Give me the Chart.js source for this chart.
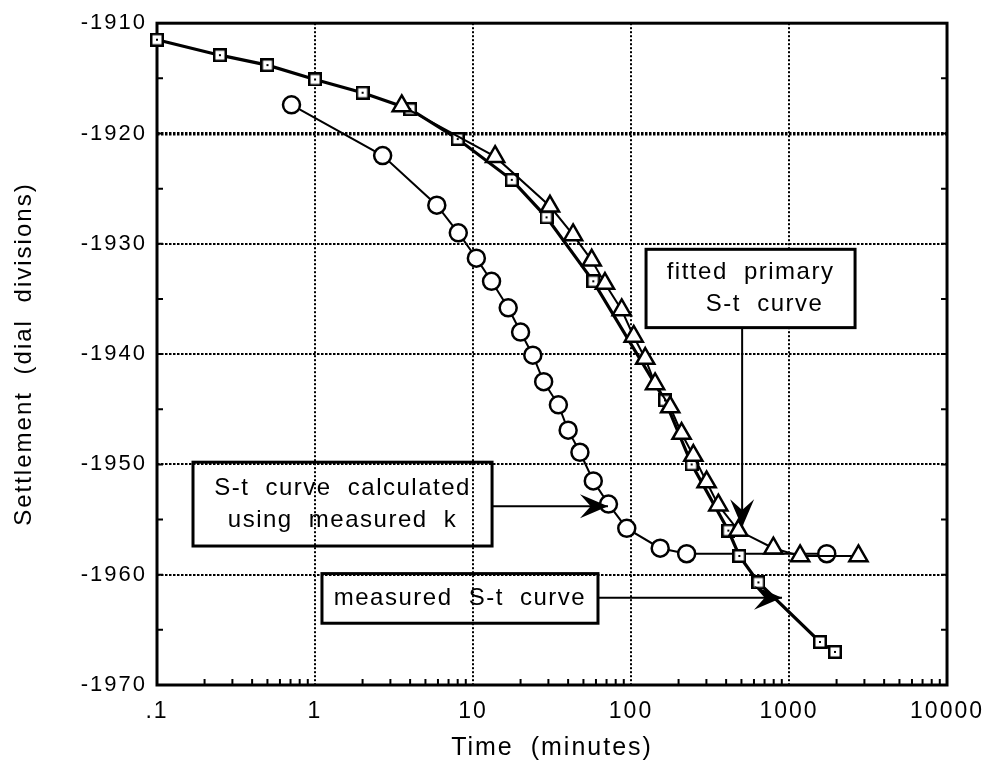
<!DOCTYPE html>
<html>
<head>
<meta charset="utf-8">
<script src="https://cdn.jsdelivr.net/npm/chart.js@4.4.1/dist/chart.umd.min.js"></script>
<style>
  html, body { margin: 0; padding: 0; background: #fff; }
  #wrap { width: 992px; height: 765px; }
</style>
</head>
<body>
<div id="wrap"><canvas id="myChart" width="992" height="765"></canvas></div>
<script>
// measured S-t curve (squares)
const measuredTime = [0.1, 0.25, 0.5, 1, 2, 4, 8, 17.6, 29.2, 57.7, 164, 242, 413, 485, 640, 1570, 1954];
const measuredSettle = [-1911.5, -1912.9, -1913.8, -1915.1, -1916.3, -1917.8, -1920.5, -1924.2, -1927.6,
                        -1933.4, -1944.2, -1950.0, -1956.0, -1958.3, -1960.7, -1966.1, -1967.0];

// fitted primary S-t curve (triangles)
const fittedTime = [3.54, 13.8, 30.7, 43, 56.4, 68.4, 87.3, 104, 123, 142, 177, 209, 248, 301, 357, 478, 796, 1175, 2750];
const fittedSettle = [-1917.5, -1922.1, -1926.6, -1929.2, -1931.5, -1933.6, -1936.0, -1938.4, -1940.4, -1942.7,
                      -1944.8, -1947.2, -1949.2, -1951.6, -1953.7, -1956.0, -1957.6, -1958.3, -1958.3];

// S-t curve calculated using measured k (circles)
const calcTime = [0.71, 2.68, 5.9, 8.07, 10.5, 13.1, 16.7, 20, 23.9, 28, 34.7, 40, 47.5, 57.7, 72, 94, 153, 225, 1733];
const calcSettle = [-1917.4, -1922.0, -1926.5, -1929.0, -1931.3, -1933.4, -1935.8, -1938.0, -1940.1, -1942.5,
                    -1944.6, -1946.9, -1948.9, -1951.5, -1953.6, -1955.8, -1957.6, -1958.1, -1958.1];

const timeTicks = [0.1, 1, 10, 100, 1000, 10000];
const timeTickLabels = ['.1', '1', '10', '100', '1000', '10000'];
const settleTicks = [-1970, -1960, -1950, -1940, -1930, -1920, -1910];

// callout boxes: corners and arrow tips in axis units
const callouts = [
  { lines: ['fitted primary', 'S-t curve'], shift: [0, 14], from: [124.5, -1930.5], to: [2618, -1937.6],
    fill: '#fff', tip: [505, -1955.7], side: 'bottom' },
  { lines: ['S-t curve calculated', 'using measured k'], shift: [0, 0], from: [0.169, -1949.8], to: [13.2, -1957.4],
    fill: null, tip: [71.5, -1953.8], side: 'right' },
  { lines: ['measured S-t curve'], shift: [0], from: [1.107, -1959.9], to: [61.8, -1964.4],
    fill: null, tip: [903, -1962.1], side: 'right' }
];

const FONT = '"Liberation Sans", Arial, sans-serif';
Chart.defaults.font.family = FONT;
Chart.defaults.color = '#000';

function toPoints(xs, ys) {
  return xs.map((x, i) => ({ x: x, y: ys[i] }));
}

// open square with a dot in the middle
function squareMark() {
  const c = document.createElement('canvas');
  c.width = 14; c.height = 14;
  const g = c.getContext('2d');
  g.fillStyle = '#fff';
  g.fillRect(1, 1, 12, 12);
  g.lineWidth = 2.5;
  g.strokeStyle = '#000';
  g.strokeRect(1.25, 1.25, 11.5, 11.5);
  g.fillStyle = '#000';
  g.fillRect(6, 6, 2, 2);
  return c;
}

function arrowHead(ctx, x, y, ang) {
  const L = 28, W = 24;
  ctx.save();
  ctx.translate(x, y);
  ctx.rotate(ang);
  ctx.beginPath();
  ctx.moveTo(0, 0);
  ctx.lineTo(-L, -W / 2);
  ctx.lineTo(-L * 0.62, 0);
  ctx.lineTo(-L, W / 2);
  ctx.closePath();
  ctx.fill();
  ctx.restore();
}

const extras = {
  id: 'extras',
  beforeDraw(chart) {
    chart.ctx.letterSpacing = '2px';
    chart.ctx.wordSpacing = '8px';
  },
  beforeDatasetsDraw(chart) {
    const { ctx, chartArea: a, scales: { x, y } } = chart;
    ctx.save();
    ctx.strokeStyle = '#000';
    ctx.lineWidth = 2;
    ctx.beginPath();
    // minor log ticks along the time axis
    for (let d = 0.1; d < 10000; d *= 10) {
      for (let m = 2; m <= 9; m++) {
        const px = x.getPixelForValue(d * m);
        ctx.moveTo(px, a.bottom);
        ctx.lineTo(px, a.bottom - 6);
      }
    }
    for (let v = -1965; v < -1910; v += 5) {
      const py = y.getPixelForValue(v);
      ctx.moveTo(a.left, py);
      ctx.lineTo(a.left + 6, py);
      ctx.moveTo(a.right, py);
      ctx.lineTo(a.right - 6, py);
    }
    ctx.stroke();
    ctx.lineWidth = 3;
    ctx.strokeRect(a.left, a.top, a.right - a.left, a.bottom - a.top);
    ctx.restore();
  },
  afterDraw(chart) {
    const { ctx, scales: { x, y } } = chart;
    ctx.save();
    ctx.strokeStyle = '#000';
    ctx.fillStyle = '#000';
    ctx.font = '24px ' + FONT;
    ctx.letterSpacing = '1.5px';
    ctx.wordSpacing = '8px';
    ctx.textAlign = 'center';
    ctx.textBaseline = 'middle';
    callouts.forEach(c => {
      const x0 = x.getPixelForValue(c.from[0]), x1 = x.getPixelForValue(c.to[0]);
      const y0 = y.getPixelForValue(c.from[1]), y1 = y.getPixelForValue(c.to[1]);
      const tx = x.getPixelForValue(c.tip[0]), ty = y.getPixelForValue(c.tip[1]);
      if (c.fill) {
        ctx.fillStyle = c.fill;
        ctx.fillRect(x0, y0, x1 - x0, y1 - y0);
        ctx.fillStyle = '#000';
      }
      ctx.lineWidth = 3;
      ctx.strokeRect(x0, y0, x1 - x0, y1 - y0);
      const cx = (x0 + x1) / 2, cy = (y0 + y1) / 2;
      const n = c.lines.length;
      c.lines.forEach((t, i) => {
        ctx.fillText(t, cx + c.shift[i], cy + (i - (n - 1) / 2) * 32);
      });
      // arrow from the box edge to the curve
      let sx, sy;
      if (c.side === 'bottom') { sx = tx; sy = y1; } else { sx = x1; sy = ty; }
      ctx.lineWidth = 2;
      ctx.beginPath();
      ctx.moveTo(sx, sy);
      ctx.lineTo(tx, ty);
      ctx.stroke();
      arrowHead(ctx, tx, ty, Math.atan2(ty - sy, tx - sx));
    });
    ctx.restore();
  }
};

new Chart('myChart', {
  type: 'scatter',
  data: {
    datasets: [
      {
        label: 'fitted primary S-t curve',
        data: toPoints(fittedTime, fittedSettle),
        showLine: true, borderColor: '#000', borderWidth: 2,
        pointStyle: 'triangle', pointRadius: 10.5, pointBorderWidth: 2.5,
        pointBackgroundColor: '#fff', pointBorderColor: '#000',
        order: 1, clip: false
      },
      {
        label: 'measured S-t curve',
        data: toPoints(measuredTime, measuredSettle),
        showLine: true, borderColor: '#000', borderWidth: 3.2,
        pointStyle: squareMark(), pointRadius: 7,
        order: 2, clip: false
      },
      {
        label: 'S-t curve calculated using measured k',
        data: toPoints(calcTime, calcSettle),
        showLine: true, borderColor: '#000', borderWidth: 2,
        pointStyle: 'circle', pointRadius: 8.5, pointBorderWidth: 2.5,
        pointBackgroundColor: '#fff', pointBorderColor: '#000',
        order: 3, clip: false
      }
    ]
  },
  options: {
    responsive: false,
    animation: false,
    events: [],
    layout: { padding: { top: 15, right: 44, left: 0, bottom: 0 } },
    plugins: { legend: { display: false }, tooltip: { enabled: false } },
    scales: {
      x: {
        type: 'logarithmic', min: 0.1, max: 10000,
        afterBuildTicks: s => { s.ticks = timeTicks.map(v => ({ value: v })); },
        afterFit: s => { s.height = 80; },
        ticks: {
          callback: v => timeTickLabels[timeTicks.indexOf(v)],
          font: { size: 23 }, color: '#000', padding: 13,
          maxRotation: 0, autoSkip: false
        },
        grid: { color: '#000', lineWidth: 2, drawTicks: false },
        border: { display: false, dash: [2, 2] },
        title: { display: true, text: 'Time (minutes)', font: { size: 25 }, color: '#000', padding: { top: 0, bottom: 2 } }
      },
      y: {
        min: -1970, max: -1910,
        afterBuildTicks: s => { s.ticks = settleTicks.map(v => ({ value: v })); },
        afterFit: s => { s.width = 157; },
        ticks: { callback: v => String(v), font: { size: 22 }, color: '#000', padding: 10 },
        grid: {
          color: '#000', drawTicks: false,
          lineWidth: c => (c.tick && c.tick.value === -1920 ? 3.5 : 2)
        },
        border: { display: false, dash: [2.5, 1.5] },
        title: { display: true, text: 'Settlement (dial divisions)', font: { size: 24 }, color: '#000', padding: { top: 10, bottom: 0 } }
      }
    }
  },
  plugins: [extras]
});
</script>
</body>
</html>
